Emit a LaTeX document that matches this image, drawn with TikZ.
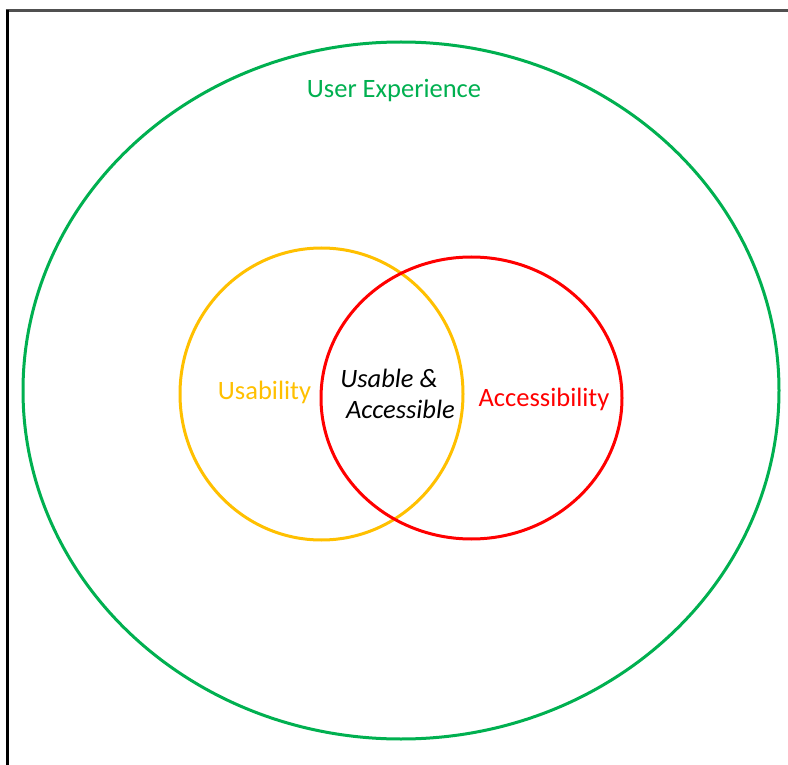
\documentclass[tikz,border=0pt]{standalone}
\usepackage{fontspec}
\setmainfont{Carlito}
\definecolor{uxgreen}{RGB}{0,176,80}
\definecolor{uxyellow}{RGB}{255,192,0}
\definecolor{uxred}{RGB}{255,0,0}
\definecolor{framegray}{RGB}{80,80,80}
\tikzset{
  ring/.style={line width=3pt},
  lbl/.style={font=\fontsize{26.5}{31}\selectfont, inner sep=0pt, align=center},
  ilbl/.style={lbl, font=\fontsize{26.5}{31}\selectfont\itshape, text=black}
}
\begin{document}
\begin{tikzpicture}[x=1pt,y=-1pt]
\useasboundingbox (0,0) rectangle (788,765);
\fill[white] (0,0) rectangle (788,765);
\draw[framegray, line width=3pt] (5.5,11) -- (788,11);
\draw[black, line width=3pt] (7,10) -- (7,765);
\draw[ring, uxgreen] (401,390.5) ellipse [x radius=378, y radius=348.5];
\draw[ring, uxyellow] (321.5,394) ellipse [x radius=141.5, y radius=146];
\draw[ring, uxred] (471.5,398) ellipse [x radius=150.5, y radius=141];
\node[lbl, text=uxgreen] (ux) at (394,91) {User Experience};
\node[lbl, text=uxyellow] (us) at (264.5,392) {Usability};
\node[lbl, text=uxred] (ac) at (544,399) {Accessibility};
\node[ilbl] (both1) at (389,378) {Usable \&};
\node[ilbl] (both2) at (400.5,409) {Accessible};
\end{tikzpicture}
\end{document}
